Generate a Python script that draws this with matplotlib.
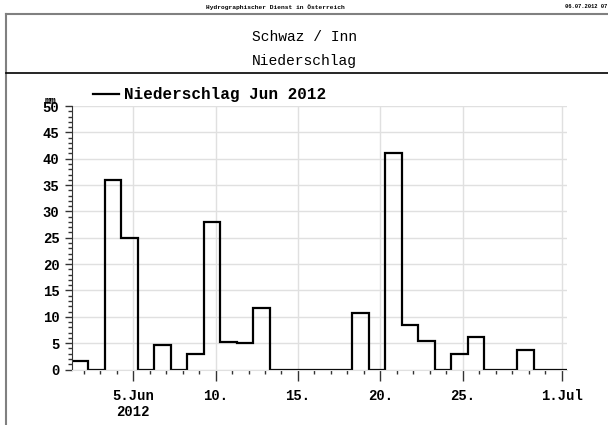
import datetime as dt
import matplotlib
matplotlib.use("Agg")
import matplotlib.pyplot as plt
import matplotlib.dates as mdates
from matplotlib.ticker import MultipleLocator, FixedLocator
from matplotlib.lines import Line2D

# daily precipitation, each value covers 07:00 of the day to 07:00 of the next day
days = list(range(1, 31))
precip = [1.6, 0, 36, 25, 0, 4.7, 0, 3.0, 28, 5.3,
          5.0, 11.7, 0, 0, 0, 0, 0, 10.7, 0, 41,
          8.4, 5.4, 0, 3.0, 6.2, 0, 0, 3.7, 0, 0]
tick_days = [5, 10, 15, 20, 25]
tick_labels = ["5.Jun\n2012", "10.", "15.", "20.", "25.", "1.Jul"]

W, H = 608, 425
fig = plt.figure(figsize=(W / 100, H / 100), dpi=100)
mono = "Liberation Mono"

# page frame
fig.add_artist(Line2D([6 / W, 6 / W], [0, 1 - 14 / H], color="#808080", lw=1.5))
fig.add_artist(Line2D([6 / W, 1], [1 - 14 / H, 1 - 14 / H], color="#808080", lw=1.5))
fig.add_artist(Line2D([6 / W, 1], [1 - 73 / H, 1 - 73 / H], color="black", lw=1.2))

fig.text(275 / W, 1 - 7 / H, "Hydrographischer Dienst in Österreich", ha="center", va="center",
         family=mono, fontweight="bold", fontsize=4.5)
fig.text(565 / W, 1 - 7 / H, "06.07.2012 07:30", ha="left", va="center",
         family=mono, fontweight="bold", fontsize=4)
fig.text(304 / W, 1 - 37 / H, "Schwaz / Inn", ha="center", va="center", family=mono, fontsize=10.5)
fig.text(304 / W, 1 - 61 / H, "Niederschlag", ha="center", va="center", family=mono, fontsize=10.5)

x0, x1, ytop, ybot = 72, 566.5, 106, 369.5
ax = fig.add_axes([x0 / W, 1 - ybot / H, (x1 - x0) / W, (ybot - ytop) / H])

start = dt.datetime(2012, 6, 1, 7)
edges = [mdates.date2num(start + dt.timedelta(days=i)) for i in range(len(precip) + 1)]
ax.stairs(precip, edges, color="black", lw=1.6, baseline=None, label="Niederschlag Jun 2012")

ax.set_xlim(edges[0], edges[-1])
ax.set_ylim(0, 50)

major = [mdates.date2num(dt.datetime(2012, 6, d)) for d in tick_days] + \
        [mdates.date2num(dt.datetime(2012, 7, 1))]
minor = [mdates.date2num(dt.datetime(2012, 6, d)) for d in days if d not in tick_days and d > 1]
ax.xaxis.set_major_locator(FixedLocator(major))
ax.xaxis.set_minor_locator(FixedLocator(minor))
ax.set_xticklabels(tick_labels)
ax.yaxis.set_major_locator(MultipleLocator(5))
ax.yaxis.set_minor_locator(MultipleLocator(1))

for lab in ax.get_xticklabels() + ax.get_yticklabels():
    lab.set_family(mono)
    lab.set_fontweight("bold")
    lab.set_fontsize(10)

ax.tick_params(axis="x", which="major", length=8, width=1, color="#333333", pad=6)
ax.tick_params(axis="x", which="minor", length=3, width=1, color="#333333")
ax.tick_params(axis="y", which="major", length=5, width=1, color="#333333", pad=4)
ax.tick_params(axis="y", which="minor", length=3, width=1, color="#333333")

ax.grid(True, which="major", color="#e0e0e0", lw=1)
ax.set_axisbelow(True)
for s in ["top", "right"]:
    ax.spines[s].set_visible(False)
ax.spines["bottom"].set_color("#e0e0e0")
ax.spines["left"].set_color("#333333")

ax.text(-0.055, 1.0, "mm", transform=ax.transAxes, family=mono, fontweight="bold",
        fontsize=7, ha="left", va="bottom")

leg = ax.legend(loc="lower left", bbox_to_anchor=(0.03, 0.99), frameon=False,
                prop={"family": mono, "weight": "bold", "size": 11.5},
                handlelength=1.6, handletextpad=0.3, borderaxespad=0)
leg.legend_handles[0].set_linewidth(1.6)

fig.savefig("out.png", dpi=100)
